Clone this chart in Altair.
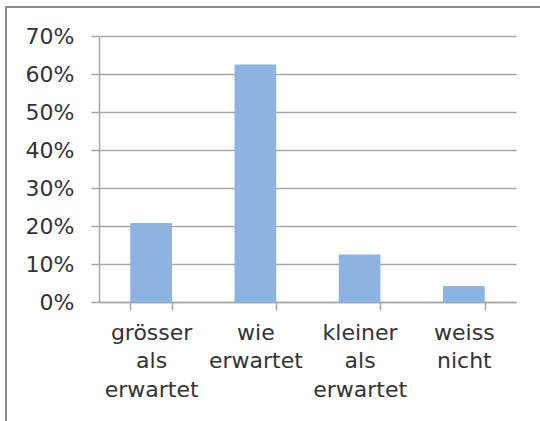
import altair as alt
import pandas as pd

# Survey answers and their shares
categories = ["grösser als erwartet", "wie erwartet", "kleiner als erwartet", "weiss nicht"]
shares = [0.208, 0.625, 0.125, 0.042]

bars_df = pd.DataFrame({"antwort": categories, "anteil": shares})
frame_df = pd.DataFrame({"k": [0]})

FONT = "DejaVu Sans"
GRID = "#a6a6a6"
TEXT = "#333333"

bars = alt.Chart(bars_df).mark_bar(color="#8db3e2").encode(
    x=alt.X(
        "antwort:N",
        sort=categories,
        title=None,
        scale=alt.Scale(paddingInner=0.6, paddingOuter=0.3),
        axis=alt.Axis(
            labelAngle=0,
            labelExpr="split(datum.label, ' ')",
            labelLineHeight=28.5,
            labelFontSize=22,
            labelFont=FONT,
            labelColor=TEXT,
            labelBaseline="top",
            labelPadding=12,
            tickBand="extent",
            tickSize=8,
            tickColor=GRID,
            domainColor=GRID,
            tickWidth=1.5,
            domainWidth=1.5,
            grid=False,
        ),
    ),
    y=alt.Y(
        "anteil:Q",
        title=None,
        scale=alt.Scale(domain=[0, 0.7], nice=False),
        axis=alt.Axis(
            values=[0, 0.1, 0.2, 0.3, 0.4, 0.5, 0.6, 0.7],
            format=".0%",
            labelFontSize=22,
            labelFont=FONT,
            labelColor=TEXT,
            labelPadding=17,
            tickSize=8,
            tickColor=GRID,
            tickWidth=1.5,
            domainColor=GRID,
            domainWidth=1.5,
            grid=True,
            gridColor=GRID,
            gridWidth=1.5,
        ),
    ),
)

# Outer chart frame (left and top edges)
frame_left = alt.Chart(frame_df).mark_rule(color="#8c8c8c", strokeWidth=2).encode(
    x=alt.value(-93), y=alt.value(-29), y2=alt.value(390)
)
frame_top = alt.Chart(frame_df).mark_rule(color="#8c8c8c", strokeWidth=2).encode(
    x=alt.value(-94), x2=alt.value(445), y=alt.value(-29)
)

chart = (
    alt.layer(frame_left, frame_top, bars)
    .properties(
        width=417,
        height=266,
        autosize=alt.AutoSizeParams(type="none"),
        padding={"left": 99, "top": 36, "right": 24, "bottom": 119},
        background="white",
    )
    .configure_view(stroke=None)
)

chart.save("out.html", embed_options={"renderer": "svg", "actions": False})
